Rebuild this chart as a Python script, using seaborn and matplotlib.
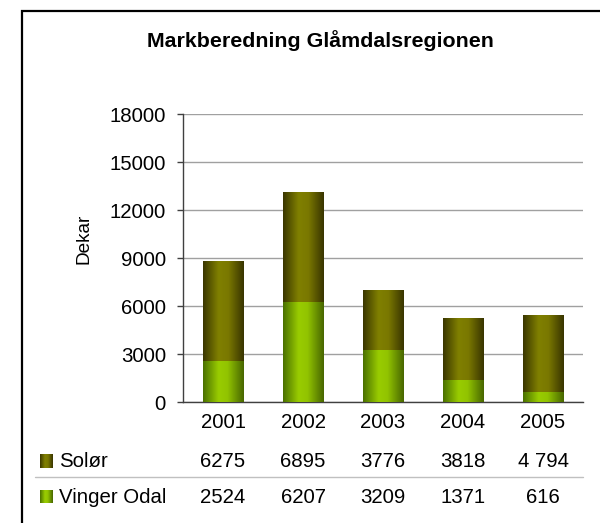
import numpy as np
import pandas as pd
import matplotlib
matplotlib.use("Agg")
import matplotlib.pyplot as plt
import seaborn as sns
from matplotlib.colors import LinearSegmentedColormap
from matplotlib.patches import Rectangle
from matplotlib.transforms import blended_transform_factory

# ---- data ----
years = ["2001", "2002", "2003", "2004", "2005"]
solor = [6275, 6895, 3776, 3818, 4794]
vinger_odal = [2524, 6207, 3209, 1371, 616]
solor_labels = ["6275", "6895", "3776", "3818", "4 794"]
vinger_labels = ["2524", "6207", "3209", "1371", "616"]
series_names = ["Solør", "Vinger Odal"]
yticks = [0, 3000, 6000, 9000, 12000, 15000, 18000]
title = "Markberedning Glåmdalsregionen"
ylabel = "Dekar"

# ---- style ----
sns.set_theme(style="white")
plt.rcParams["font.family"] = ["Liberation Sans", "DejaVu Sans"]

W, H = 600, 523
fig = plt.figure(figsize=(W / 100, H / 100), dpi=100)
fig.patch.set_facecolor("white")

def fx(px):
    return px / W

def fy(py):
    return 1 - py / H

ax = fig.add_axes([fx(183), fy(402), fx(583) - fx(183), fy(114) - fy(402)])

df = pd.DataFrame({"year": years, "solor": solor, "vinger": vinger_odal})
df["total"] = df["solor"] + df["vinger"]

solor_cmap = LinearSegmentedColormap.from_list(
    "solor", [(0.0, "#3a3600"), (0.38, "#808000"), (0.62, "#7a7800"), (1.0, "#383400")])
vinger_cmap = LinearSegmentedColormap.from_list(
    "vinger", [(0.0, "#4a7000"), (0.38, "#99cc00"), (0.6, "#92c400"), (1.0, "#476600")])

bar_w = 0.51
sns.barplot(data=df, x="year", y="total", order=years, color="#808000",
            width=bar_w, saturation=1, errorbar=None, ax=ax, zorder=3)
n_solor = len(ax.patches)
sns.barplot(data=df, x="year", y="vinger", order=years, color="#99cc00",
            width=bar_w, saturation=1, errorbar=None, ax=ax, zorder=4)

grad = np.linspace(0, 1, 256).reshape(1, -1)
for i, p in enumerate(ax.patches):
    cmap = solor_cmap if i < n_solor else vinger_cmap
    x0, y0 = p.get_x(), p.get_y()
    w, h = p.get_width(), p.get_height()
    ax.imshow(grad, cmap=cmap, aspect="auto", interpolation="bilinear",
              extent=(x0, x0 + w, y0, y0 + h), zorder=p.get_zorder() + 0.5)
    p.set_edgecolor("none")

ax.set_xlim(-0.5, len(years) - 0.5)
ax.set_ylim(0, 18000)
ax.set_yticks(yticks)
ax.set_yticklabels([str(t) for t in yticks], fontsize=14.7, color="black")
ax.set_xticks([])
ax.set_xlabel("")
ax.set_ylabel("")
ax.yaxis.grid(True, color="#a0a0a0", linewidth=1.0, zorder=0)
ax.set_axisbelow(True)
ax.tick_params(axis="y", direction="out", length=4.3, width=1, color="#404040",
               pad=8, left=True)
for s in ["top", "right"]:
    ax.spines[s].set_visible(False)
ax.spines["left"].set_color("#404040")
ax.spines["bottom"].set_color("#404040")
ax.spines["left"].set_linewidth(1.0)
ax.spines["bottom"].set_linewidth(1.0)

# y label
fig.text(fx(84), fy(239), ylabel, rotation=90, ha="center", va="center",
         fontsize=13.7, color="black")

# title
fig.text(fx(320), fy(47), title, ha="center", va="baseline",
         fontsize=15.4, fontweight="bold", color="black")

# data table
fs = 14.7
trans = blended_transform_factory(ax.transData, fig.transFigure)
for i, y in enumerate(years):
    ax.text(i, fy(428), y, transform=trans, ha="center", va="baseline",
            fontsize=fs, color="black")
    ax.text(i, fy(467), solor_labels[i], transform=trans, ha="center",
            va="baseline", fontsize=fs, color="black")
    ax.text(i, fy(503), vinger_labels[i], transform=trans, ha="center",
            va="baseline", fontsize=fs, color="black")

fig.text(fx(59), fy(467), series_names[0], ha="left", va="baseline",
         fontsize=fs, color="black")
fig.text(fx(59), fy(503), series_names[1], ha="left", va="baseline",
         fontsize=fs, color="black")

# separator line
fig.add_artist(plt.Line2D([fx(35), fx(583)], [fy(476.5), fy(476.5)],
                          color="#c0c0c0", linewidth=1.0))

# legend keys
for (top, cmap) in [(454, solor_cmap), (490, vinger_cmap)]:
    kax = fig.add_axes([fx(40), fy(top + 13.5), fx(12.5), 13.5 / H])
    kax.imshow(grad, cmap=cmap, aspect="auto", interpolation="bilinear")
    kax.set_axis_off()

# outer frame
fig.add_artist(Rectangle((fx(21.5), fy(700)), 2, fy(11) - fy(700),
                         transform=fig.transFigure, fill=False,
                         edgecolor="black", linewidth=1.6))

fig.savefig("out.png", dpi=100, facecolor="white")
